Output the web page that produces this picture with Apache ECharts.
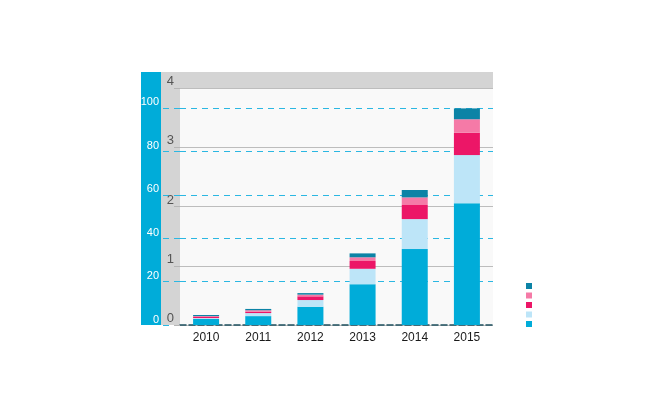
<!DOCTYPE html>
<html>
<head>
<meta charset="utf-8">
<script src="https://cdn.jsdelivr.net/npm/echarts@6/dist/echarts.min.js"></script>
<style>
  html, body { margin: 0; padding: 0; background: #fff; }
  #main { width: 650px; height: 397px; }
</style>
</head>
<body>
<div id="main"></div>
<script>
// data
var years = ['2010', '2011', '2012', '2013', '2014', '2015'];
var seriesNames = ['s1', 's2', 's3', 's4', 's5'];
var s1 = [2.8, 4.1, 8.4, 18.8, 35.0, 56.1];
var s2 = [0.4, 1.4, 3.1, 7.1, 13.8, 22.2];
var s3 = [0.5, 0.6, 1.7, 3.6, 6.5, 10.3];
var s4 = [0.4, 0.7, 0.8, 1.7, 3.5, 6.2];
var s5 = [0.5, 0.6, 0.7, 1.8, 3.4, 5.0];
var colors = ['#00acd9', '#bde5f8', '#ec1667', '#f57aa7', '#0c83a6'];

var chart = echarts.init(document.getElementById('main'));
var font = "'Liberation Sans', Arial, sans-serif";

function bar(i, data) {
  return {
    name: seriesNames[i],
    type: 'bar',
    stack: 'total',
    yAxisIndex: 0,
    barWidth: 26,
    itemStyle: { color: colors[i] },
    data: data
  };
}

var option = {
  animation: false,
  textStyle: { fontFamily: font },
  graphic: [
    { type: 'rect', z: -10, shape: { x: 141, y: 72, width: 20, height: 253 }, style: { fill: '#00acd9' } },
    { type: 'rect', z: -10, shape: { x: 161, y: 72, width: 19, height: 253 }, style: { fill: '#d4d4d4' } },
    { type: 'rect', z: -10, shape: { x: 161, y: 72, width: 332, height: 16 }, style: { fill: '#d4d4d4' } }
  ],
  grid: {
    left: 180, right: 157, top: 88, bottom: 72,
    show: true, backgroundColor: '#f9f9f9', borderWidth: 0
  },
  legend: {
    orient: 'vertical',
    left: 521, top: 278,
    itemWidth: 6, itemHeight: 6, itemGap: 3.5,
    icon: 'rect',
    data: ['s5', 's4', 's3', 's2', 's1'],
    formatter: function () { return ''; },
    selectedMode: false
  },
  xAxis: {
    type: 'category',
    data: years,
    axisLine: { lineStyle: { color: '#1d4f5e', type: 'dashed', width: 1.5 } },
    axisTick: { show: false },
    axisLabel: { color: '#1a1a1a', fontSize: 12, margin: 7, fontFamily: font }
  },
  yAxis: [
    {
      type: 'value', min: 0, max: 109.2, interval: 20, position: 'left',
      axisLine: { show: false },
      axisTick: { show: true, length: 19, lineStyle: { color: '#2bb7e2', width: 1, type: [6, 5] } },
      axisLabel: { color: '#fff', fontSize: 11, margin: 21, verticalAlign: 'bottom', showMaxLabel: false, fontFamily: font },
      splitLine: { show: true, showMaxLine: false, lineStyle: { color: '#2bb7e2', type: [6, 5] } }
    },
    {
      type: 'value', min: 0, max: 4, interval: 1, position: 'left',
      axisLine: { show: false },
      axisTick: { show: true, length: 6, lineStyle: { color: '#b5b5b5' } },
      axisLabel: { color: '#555', fontSize: 13, margin: 6, verticalAlign: 'bottom', fontFamily: font },
      splitLine: { show: true, lineStyle: { color: '#bdbdbd' } }
    }
  ],
  series: [bar(0, s1), bar(1, s2), bar(2, s3), bar(3, s4), bar(4, s5)]
};
chart.setOption(option);
</script>
</body>
</html>
